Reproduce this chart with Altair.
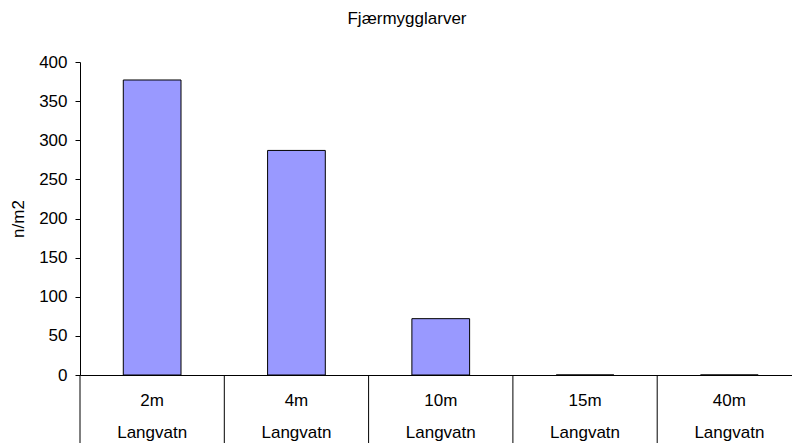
import altair as alt
import pandas as pd

# Chironomid larvae density by depth, Langvatn
depths = ["2m", "4m", "10m", "15m", "40m"]
lakes = ["Langvatn", "Langvatn", "Langvatn", "Langvatn", "Langvatn"]
density = [377, 287, 72, 0, 0]

df = pd.DataFrame({
    "label": [f"{d}|{l}" for d, l in zip(depths, lakes)],
    "density": density,
})
order = list(df["label"])

FONT = "Liberation Sans"
FS = 17
W, H = 712, 313
STEP = 144.3

x_scale = alt.Scale(domain=order, range=[0, STEP * len(order)], paddingInner=0, paddingOuter=0)
x_axis = alt.Axis(labelAngle=0, ticks=False, labelPadding=17,
                  labelExpr="split(datum.label, '|')",
                  labelLineHeight=32, labelBaseline="top",
                  labelFont=FONT, labelFontSize=FS, labelColor="#000000",
                  domainColor="#000000", grid=False, title=None)

bars = alt.Chart(df).mark_bar(
    width=alt.RelativeBandSize(0.4),
    color="#9999FF",
    stroke="#000000",
    strokeWidth=1,
).encode(
    x=alt.X("label:N", sort=order, scale=x_scale, title=None, axis=x_axis),
    y=alt.Y("density:Q", title="n/m2",
            scale=alt.Scale(domain=[0, 400], nice=False),
            axis=alt.Axis(values=list(range(0, 401, 50)), grid=False,
                          tickSize=5, tickColor="#000000", domainColor="#000000",
                          labelPadding=8, labelFont=FONT, labelFontSize=FS,
                          labelColor="#000000", titleFont=FONT, titleFontSize=FS,
                          titleFontWeight="normal", titleColor="#000000",
                          titlePadding=11)),
)

# category separators below the axis, at the left edge of each band
seps = alt.Chart(df).mark_rule(color="#000000", strokeWidth=1).encode(
    x=alt.X("label:N", sort=order, scale=x_scale, bandPosition=0, title=None, axis=x_axis),
    y=alt.value(H),
    y2=alt.value(H + 68),
)

chart = alt.layer(bars, seps).properties(
    width=W,
    height=H,
    title=alt.TitleParams("Fjærmygglarver", font=FONT, fontSize=FS,
                          fontWeight="normal", color="#000000",
                          anchor="middle", offset=25, dx=-29),
    autosize=alt.AutoSizeParams(type="none"),
    padding={"left": 80, "top": 62, "right": 0, "bottom": 68},
).configure(background="#ffffff").configure_view(stroke=None)

chart.save("out.html", embed_options={"renderer": "svg", "actions": False})
